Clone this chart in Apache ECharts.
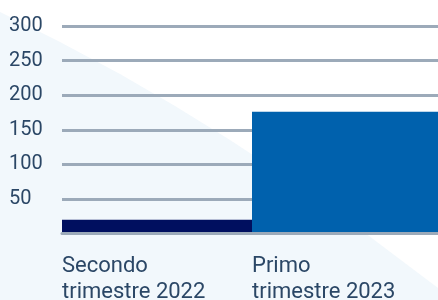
<!DOCTYPE html>
<html>
<head>
<meta charset="utf-8">
<script src="https://cdn.jsdelivr.net/npm/echarts@6/dist/echarts.min.js"></script>
<style>
  html, body { margin: 0; padding: 0; background: #ffffff; }
  #chart { width: 438px; height: 300px; }
</style>
</head>
<body>
<div id="chart"></div>
<script>
// data
const categories = ['Secondo\ntrimestre 2022', 'Primo\ntrimestre 2023'];
const values = [20, 176];
const barColors = ['#000f5f', '#0061ad'];
const yTicks = [50, 100, 150, 200, 250, 300];

const gridColor = '#9caab9';
const textColor = '#2b4766';

document.addEventListener('DOMContentLoaded', function () {
    renderChart();
});

function renderChart() {
    var chart = echarts.init(document.getElementById('chart'));
    var option = {
        animation: false,
        backgroundColor: '#ffffff',
        // light blue curved shape in the background
        graphic: [{
            type: 'polygon',
            z: -10,
            silent: true,
            shape: {
                points: [[0, 12], [60, 42], [120, 74], [175, 106], [230, 140], [300, 186],
                    [369, 236], [438, 288], [438, 300], [0, 300]]
            },
            style: { fill: '#f2f8fc' }
        }],
        grid: {
            left: 62,
            right: -4,
            top: 26,
            bottom: 66.4,
            outerBoundsMode: 'none' // labels may run past the bottom edge, as in the picture
        },
        xAxis: [{
            type: 'category',
            data: categories,
            z: 5,
            axisLine: { lineStyle: { color: gridColor, width: 3 } },
            axisTick: { show: false },
            axisLabel: { show: false }
        }, {
            // label-only axis so the labels sit left aligned at each bar's edge
            type: 'value',
            position: 'bottom',
            min: 0,
            max: categories.length,
            interval: 1,
            axisLine: { show: false },
            axisTick: { show: false },
            splitLine: { show: false },
            axisLabel: {
                align: 'left',
                margin: 20,
                color: textColor,
                fontFamily: 'Roboto',
                fontSize: 22,
                lineHeight: 26,
                verticalAlign: 'top',
                formatter: function (v) {
                    return categories[v] || '';
                }
            }
        }],
        yAxis: {
            type: 'value',
            min: 0,
            max: 300,
            interval: 50,
            axisLine: { show: false },
            axisTick: { show: false },
            splitLine: { lineStyle: { color: gridColor, width: 3 } },
            axisLabel: {
                align: 'left',
                margin: 53,
                color: textColor,
                fontFamily: 'Roboto',
                fontSize: 20,
                padding: [0, 0, 5, 0],
                formatter: function (v) {
                    return yTicks.includes(v) ? String(v) : '';
                }
            }
        },
        series: [{
            type: 'bar',
            xAxisIndex: 0,
            barCategoryGap: '0%',
            data: values.map((v, i) => ({
                value: v,
                itemStyle: { color: barColors[i] }
            }))
        }]
    };
    chart.setOption(option);
}
</script>
</body>
</html>
